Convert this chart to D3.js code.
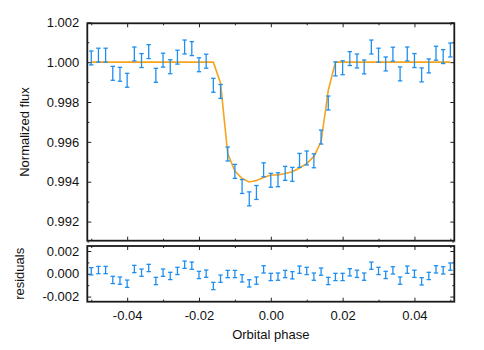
<!DOCTYPE html>
<html>
<head>
<meta charset="utf-8">
<script src="https://cdn.jsdelivr.net/npm/d3@7"></script>
<style>
  body { margin: 0; background: #fff; }
  svg { display: block; font-family: 'Liberation Sans', Arial, Helvetica, sans-serif; }
</style>
</head>
<body>
<script>
// orbital phase of each exposure
const phase = [
  -0.050, -0.048, -0.046, -0.044, -0.042, -0.040, -0.038, -0.036, -0.034, -0.032,
  -0.030, -0.028, -0.026, -0.024, -0.022, -0.020, -0.018, -0.016, -0.014, -0.012,
  -0.010, -0.008, -0.006, -0.004, -0.002, 0.000, 0.002, 0.004, 0.006, 0.008,
  0.010, 0.012, 0.014, 0.016, 0.018, 0.020, 0.022, 0.024, 0.026, 0.028,
  0.030, 0.032, 0.034, 0.036, 0.038, 0.040, 0.042, 0.044, 0.046, 0.048,
  0.050
]

// normalized flux
const flux = [
  1.00021, 1.00035, 1.00035, 0.99944, 0.99939, 0.99909, 1.00041, 1.00008, 1.00053, 0.99934,
  1.00010, 0.99977, 1.00025, 1.00076, 1.00068, 0.99987, 1.00005, 0.99884, 0.99853, 0.99539,
  0.99452, 0.99376, 0.99314, 0.99346, 0.99460, 0.99407, 0.99410, 0.99442, 0.99437, 0.99507,
  0.99519, 0.99505, 0.99624, 0.99795, 0.99966, 0.99972, 1.00018, 1.00006, 0.99976, 1.00076,
  1.00035, 0.99991, 1.00040, 0.99941, 1.00041, 1.00008, 0.99936, 0.99981, 1.00045, 1.00028,
  1.00061
]

// transit model evaluated at the same phases
const model = [
  1.00000, 1.00000, 1.00000, 1.00000, 1.00000, 1.00000, 1.00000, 1.00000, 1.00000, 1.00000,
  1.00000, 1.00000, 1.00000, 1.00000, 1.00000, 1.00000, 1.00000, 1.00000, 0.99896, 0.99541,
  0.99454, 0.99416, 0.99399, 0.99406, 0.99421, 0.99434, 0.99434, 0.99441, 0.99450, 0.99469,
  0.99491, 0.99527, 0.99600, 0.99858, 1.00000, 1.00000, 1.00000, 1.00000, 1.00000, 1.00000,
  1.00000, 1.00000, 1.00000, 1.00000, 1.00000, 1.00000, 1.00000, 1.00000, 1.00000, 1.00000,
  1.00000
]

// residuals (data - model)
const resid = [
  0.00022, 0.00033, 0.00033, -0.00054, -0.00060, -0.00087, 0.00042, 0.00010, 0.00051, -0.00063,
  0.00010, -0.00019, 0.00025, 0.00080, 0.00071, -0.00010, 0.00001, -0.00107, -0.00043, -0.00002,
  -0.00002, -0.00040, -0.00084, -0.00060, 0.00039, -0.00028, -0.00025, -0.00002, -0.00013, 0.00036,
  0.00025, -0.00025, 0.00019, -0.00063, -0.00028, -0.00028, 0.00013, 0.00000, -0.00025, 0.00071,
  0.00025, -0.00010, 0.00030, -0.00060, 0.00036, 0.00000, -0.00066, -0.00019, 0.00039, 0.00030,
  0.00063
]

const fluxErr = 0.00035
const residErr = 0.00032

// tick values
const xMajor = [-0.04, -0.02, 0.00, 0.02, 0.04]
const xMinor = [-0.05, -0.03, -0.01, 0.01, 0.03, 0.05]
const fluxMajor = [0.992, 0.994, 0.996, 0.998, 1.000, 1.002]
const fluxMinor = [0.991, 0.993, 0.995, 0.997, 0.999, 1.001]
const residMajor = [-0.002, 0.000, 0.002]
const residMinor = [-0.001, 0.001]

const W = 484, H = 350
const left = 87.3, right = 454.3
const top1 = 23.3, bot1 = 240.7
const top2 = 246, bot2 = 301.7

const BLUE = '#1e8ff0'
const ORANGE = '#f7a41d'

const svg = d3.select('body').append('svg')
  .attr('width', W).attr('height', H)

const x = d3.scaleLinear().domain([-0.0511, 0.0511]).range([left, right])
const yF = d3.scaleLinear().domain([0.99104, 1.00195]).range([bot1, top1])
const yR = d3.scaleLinear().domain([-0.00245, 0.00244]).range([bot2, top2])

const minus = s => s.replace('\u2212', '-')
const fmt3 = v => minus(d3.format('.3f')(v))
const fmt2 = v => minus(d3.format('.2f')(v))

function panel(y, top, bot, yMajor, yMinor, showX) {
  const g = svg.append('g')
  const noLab = () => ''
  // bottom / top x ticks
  g.append('g').attr('transform', `translate(0,${bot})`)
    .call(d3.axisBottom(x).tickValues(xMajor).tickSize(-4).tickPadding(9)
      .tickFormat(showX ? fmt2 : noLab))
  g.append('g').attr('transform', `translate(0,${bot})`)
    .call(d3.axisBottom(x).tickValues(xMinor).tickSize(-2).tickFormat(noLab))
  g.append('g').attr('transform', `translate(0,${top})`)
    .call(d3.axisTop(x).tickValues(xMajor).tickSize(-4).tickFormat(noLab))
  g.append('g').attr('transform', `translate(0,${top})`)
    .call(d3.axisTop(x).tickValues(xMinor).tickSize(-2).tickFormat(noLab))
  // left / right y ticks
  g.append('g').attr('transform', `translate(${left},0)`)
    .call(d3.axisLeft(y).tickValues(yMajor).tickSize(-4).tickPadding(8).tickFormat(fmt3))
  g.append('g').attr('transform', `translate(${left},0)`)
    .call(d3.axisLeft(y).tickValues(yMinor).tickSize(-2).tickFormat(noLab))
  g.append('g').attr('transform', `translate(${right},0)`)
    .call(d3.axisRight(y).tickValues(yMajor).tickSize(-4).tickFormat(noLab))
  g.append('g').attr('transform', `translate(${right},0)`)
    .call(d3.axisRight(y).tickValues(yMinor).tickSize(-2).tickFormat(noLab))

  g.selectAll('.domain').remove()
  g.selectAll('.tick line').attr('stroke', '#222').attr('stroke-width', 1)
  g.selectAll('.tick text')
    .style('font-family', "'Liberation Sans', Arial, sans-serif")
    .style('font-size', '13px').attr('fill', '#111')
  return g
}

function errorBars(vals, err, y) {
  const g = svg.append('g').attr('stroke', BLUE).attr('stroke-width', 1.3).attr('fill', 'none')
  const cap = 2.2
  phase.forEach((p, i) => {
    const cx = x(p), y0 = y(vals[i] - err), y1 = y(vals[i] + err)
    g.append('line').attr('x1', cx).attr('x2', cx).attr('y1', y0).attr('y2', y1)
    g.append('line').attr('x1', cx - cap).attr('x2', cx + cap).attr('y1', y0).attr('y2', y0)
    g.append('line').attr('x1', cx - cap).attr('x2', cx + cap).attr('y1', y1).attr('y2', y1)
  })
}

panel(yF, top1, bot1, fluxMajor, fluxMinor, false)
panel(yR, top2, bot2, residMajor, residMinor, true)

// model curve
svg.append('path')
  .datum(phase.map((p, i) => [p, model[i]]))
  .attr('fill', 'none')
  .attr('stroke', ORANGE)
  .attr('stroke-width', 1.6)
  .attr('d', d3.line().x(d => x(d[0])).y(d => yF(d[1])))

errorBars(flux, fluxErr, yF)
errorBars(resid, residErr, yR)

// frames
svg.append('rect').attr('x', left).attr('y', top1)
  .attr('width', right - left).attr('height', bot1 - top1)
  .attr('fill', 'none').attr('stroke', '#1a1a1a').attr('stroke-width', 1.8)
svg.append('rect').attr('x', left).attr('y', top2)
  .attr('width', right - left).attr('height', bot2 - top2)
  .attr('fill', 'none').attr('stroke', '#1a1a1a').attr('stroke-width', 1.8)

// axis labels
svg.append('text')
  .attr('transform', `translate(28.5,${(top1 + bot1) / 2}) rotate(-90)`)
  .attr('text-anchor', 'middle')
  .style('font-size', '13px').attr('fill', '#111')
  .text('Normalized flux')

svg.append('text')
  .attr('transform', `translate(24,${(top2 + bot2) / 2}) rotate(-90)`)
  .attr('text-anchor', 'middle')
  .style('font-size', '13px').attr('fill', '#111')
  .text('residuals')

svg.append('text')
  .attr('x', (left + right) / 2).attr('y', 339)
  .attr('text-anchor', 'middle')
  .style('font-size', '13px').attr('fill', '#111')
  .text('Orbital phase')
</script>
</body>
</html>
